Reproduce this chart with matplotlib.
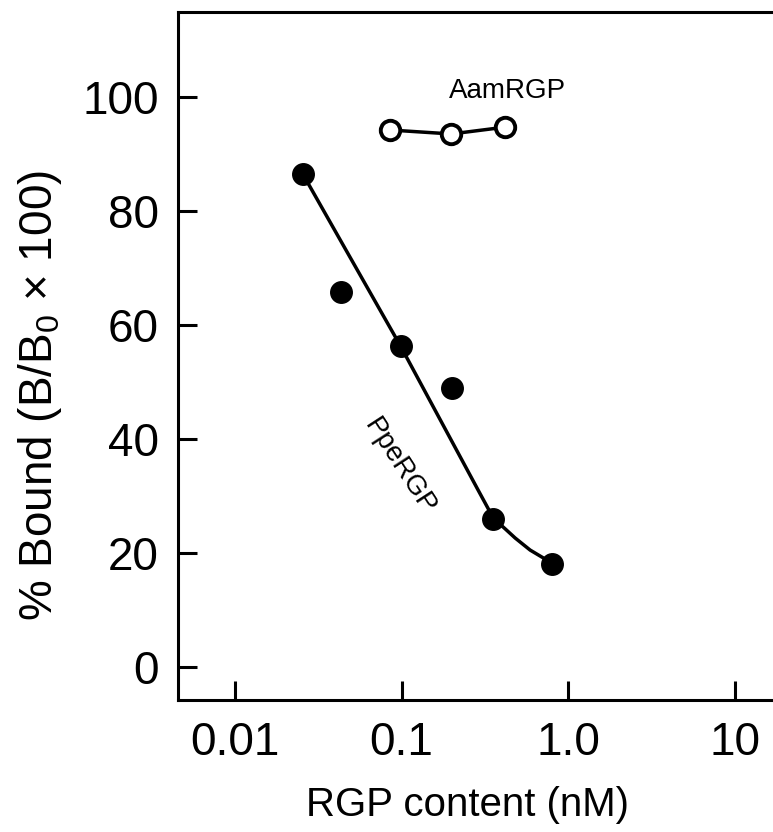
import matplotlib
matplotlib.use('Agg')
import matplotlib.pyplot as plt
import numpy as np
from matplotlib.ticker import FixedLocator, FixedFormatter, NullLocator

plt.rcParams['font.family'] = ['Liberation Sans', 'DejaVu Sans']
plt.rcParams['mathtext.fontset'] = 'custom'
plt.rcParams['mathtext.rm'] = 'Liberation Sans'

# PpeRGP (filled circles)
ppe_x = [0.0255, 0.0431, 0.0986, 0.202, 0.356, 0.80]
ppe_y = [86.5, 65.8, 56.3, 48.9, 26.0, 18.1]

# fitted curve
fit_x = [0.0255, 0.0475, 0.0986, 0.188, 0.285, 0.356, 0.420, 0.482, 0.592, 0.802]
fit_y = [86.5, 72.6, 56.3, 41.1, 31.3, 26.1, 24.2, 22.6, 20.5, 18.2]

# AamRGP (open circles)
aam_x = [0.0847, 0.199, 0.42]
aam_y = [94.2, 93.5, 94.7]

xticks = [0.01, 0.1, 1.0, 10]
xtick_labels = ['0.01', '0.1', '1.0', '10']
yticks = [0, 20, 40, 60, 80, 100]

fig = plt.figure(figsize=(7.73, 8.32), dpi=100)
ax = fig.add_axes([0.2303, 0.1587, 0.85, 0.8269])
ax.set_xscale('log')

# pixel scale of the original: 166.5 px per decade, 5.7 px per unit
W = 0.85 * 773
left_log = np.log10(0.01) - (235 - 178) / 166.5
ax.set_xlim(10 ** left_log, 10 ** (left_log + W / 166.5))
ax.set_ylim(-5.8, 114.9)

ax.plot(fit_x, fit_y, color='black', lw=2.5, zorder=2)
ax.plot(ppe_x, ppe_y, 'o', color='black', ms=15.5, zorder=3)
ax.plot(aam_x, aam_y, '-o', color='black', lw=2.5, ms=14, mfc='white',
        mec='black', mew=2.8, zorder=3)

ax.text(0.436, 101.0, 'AamRGP', fontsize=20, ha='center', va='center')
ax.text(0.0966, 35.1, 'PpeRGP', fontsize=20, ha='center', va='center',
        rotation=-57)

ax.xaxis.set_major_locator(FixedLocator(xticks))
ax.xaxis.set_major_formatter(FixedFormatter(xtick_labels))
ax.xaxis.set_minor_locator(NullLocator())
ax.set_yticks(yticks)

ax.tick_params(direction='in', length=14, width=2.2, labelsize=33)
ax.tick_params(axis='x', pad=15)
ax.tick_params(axis='y', pad=14)

for s in ['left', 'bottom', 'top']:
    ax.spines[s].set_linewidth(2.2)
ax.spines['right'].set_visible(False)

ax.set_xlabel('RGP content (nM)', fontsize=29, va='center')
ax.xaxis.set_label_coords(0.441, -0.153)
ax.set_ylabel('% Bound (B/B$_0$ \u00d7 100)', fontsize=33, va='center')
ax.yaxis.set_label_coords(-0.210, 0.443)

plt.savefig('out.png', dpi=100)
